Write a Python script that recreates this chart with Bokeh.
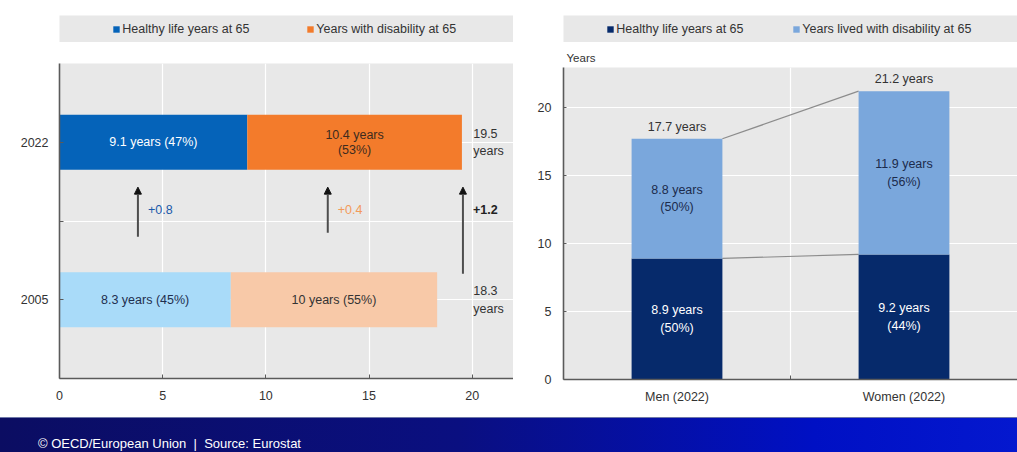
from bokeh.plotting import figure
from bokeh.layouts import column, row
from bokeh.models import (ColumnDataSource, Range1d, FixedTicker, Legend, LegendItem,
                          Arrow, NormalHead, Div)
from bokeh.core.properties import value
from bokeh.embed import file_html
from bokeh.resources import INLINE

FONT = "Liberation Sans"
BG = "#e8e8e8"
AXIS = "#5a5a5a"
TXT = "#333333"
FS = "12.5px"

# ---- EU, healthy life years at 65: 2005 vs 2022 ----
periods = ["2005", "2022"]
healthy_years = [8.3, 9.1]
disability_years = [10.0, 10.4]
total_years = [18.3, 19.5]
healthy_text = ["8.3 years (45%)", "9.1 years (47%)"]
disability_text = ["10 years (55%)", "10.4 years\n(53%)"]
change_text = ["+0.8", "+0.4", "+1.2"]
x_ticks_left = [0, 5, 10, 15, 20]

# ---- by sex, 2022 ----
sexes = ["Men (2022)", "Women (2022)"]
sex_healthy = [8.9, 9.2]
sex_disability = [8.8, 11.9]
sex_total = [17.7, 21.2]
sex_healthy_text = ["8.9 years\n(50%)", "9.2 years\n(44%)"]
sex_disability_text = ["8.8 years\n(50%)", "11.9 years\n(56%)"]
y_ticks_right = [0, 5, 10, 15, 20]


def legend_band(frame_w, border_left, pad_left, names, colors, item_step):
    """A grey strip above a panel that carries its horizontal legend."""
    p = figure(frame_width=frame_w, frame_height=27, min_border_left=border_left,
               min_border_right=0, min_border_top=15, min_border_bottom=0,
               x_range=Range1d(0, 1), y_range=Range1d(0, 1),
               x_axis_location=None, y_axis_location=None,
               toolbar_location=None, output_backend="svg",
               background_fill_color=BG, border_fill_color="white",
               outline_line_color=None)
    p.grid.visible = False
    items = []
    for name, col in zip(names, colors):
        # swatch source: one bar parked outside the visible range
        r = p.vbar(x=[5], top=[1], width=0.1, fill_color=col, line_color=None)
        items.append(LegendItem(label=name, renderers=[r]))
    label_w = 130
    leg = Legend(items=items, orientation="horizontal", location=(pad_left, 6),
                 margin=0, padding=0, spacing=item_step - 10 - label_w,
                 label_width=label_w,
                 glyph_width=8, glyph_height=8, label_standoff=2,
                 background_fill_alpha=0, border_line_color=None,
                 label_text_font=FONT, label_text_font_size=FS,
                 label_text_color=TXT)
    p.add_layout(leg)
    return p


def style_axes(p):
    for ax in p.axis:
        ax.axis_line_color = AXIS
        ax.axis_line_width = 1.6
        ax.major_tick_line_color = AXIS
        ax.minor_tick_line_color = AXIS
        ax.major_label_text_font = FONT
        ax.major_label_text_font_size = FS
        ax.major_label_text_color = TXT
        ax.major_tick_out = 0
        ax.minor_tick_out = 0
        ax.minor_tick_in = 0


# ================= left panel =================
left_leg = legend_band(455, 58, 93,
                       ["Healthy life years at 65", "Years with disability at 65"],
                       ["#0563b9", "#f37b2b"], 194)

left = figure(frame_width=454, frame_height=315, min_border_left=59, min_border_right=0,
              min_border_top=21, min_border_bottom=39,
              x_range=Range1d(0, 22), y_range=Range1d(0, 4),
              toolbar_location=None, output_backend="svg",
              background_fill_color=BG, border_fill_color="white",
              outline_line_color=None)

row_pos = [1 + 2 * i for i in range(len(periods))]
left_src = ColumnDataSource(dict(
    y=row_pos,
    healthy=healthy_years,
    total=total_years,
    healthy_mid=[h / 2 for h in healthy_years],
    dis_mid=[(h + t) / 2 for h, t in zip(healthy_years, total_years)],
    healthy_text=healthy_text,
    disability_text=disability_text,
    total_text=[f"{t:g}\nyears" for t in total_years],
    healthy_color=["#a9dbf9", "#0563b9"],
    dis_color=["#f8c9a8", "#f37b2b"],
    healthy_tc=["#1f2f4f", "white"],
    dis_tc=["#333333", "#3d2b1f"],
))

left.hbar(y="y", left=0, right="healthy", height=0.7, fill_color="healthy_color",
          line_color=None, source=left_src)
left.hbar(y="y", left="healthy", right="total", height=0.7, fill_color="dis_color",
          line_color=None, source=left_src)

left.text(x="healthy_mid", y="y", text="healthy_text", text_color="healthy_tc",
          text_align="center", text_baseline="middle", text_font=value(FONT),
          text_font_size=FS, source=left_src)
left.text(x="dis_mid", y="y", text="disability_text", text_color="dis_tc",
          text_align="center", text_baseline="middle", text_font=value(FONT),
          text_font_size=FS, text_line_height=1.1, source=left_src)
left.text(x=20, y="y", x_offset=1, text="total_text", text_color=TXT,
          text_align="left", text_baseline="middle", text_font=value(FONT),
          text_font_size=FS, text_line_height=1.25, source=left_src)

# change arrows between the two periods
arrow_x = [3.8, 13.0, total_years[-1] + 0.05]
arrow_y0 = [1.8, 1.85, 1.33]
for ax_, y0 in zip(arrow_x, arrow_y0):
    left.add_layout(Arrow(x_start=ax_, y_start=y0, x_end=ax_, y_end=2.43,
                          line_color="#4d4d4d", line_width=2,
                          end=NormalHead(size=7, fill_color="#111111",
                                         line_color="#111111")))
change_src = ColumnDataSource(dict(
    x=arrow_x, y=[2.15] * len(change_text), text=change_text,
    color=["#1a5aab", "#f39a5a", "#222222"],
    style=["normal", "normal", "bold"],
))
left.text(x="x", y="y", x_offset=10, text="text", text_color="color",
          text_font_style="style", text_align="left", text_baseline="middle",
          text_font=value(FONT), text_font_size=FS, source=change_src)

left.xaxis.ticker = FixedTicker(ticks=x_ticks_left)
left.yaxis.ticker = FixedTicker(ticks=[1, 2, 3])
left.yaxis.major_label_overrides = {1: periods[0], 2: "", 3: periods[1]}
style_axes(left)
left.xaxis.major_tick_in = 4
left.yaxis.major_tick_in = 4
left.xaxis.major_label_standoff = 12
left.yaxis.major_label_standoff = 11
left.xgrid.grid_line_color = "white"
left.ygrid.grid_line_color = "white"
left.xgrid.grid_line_width = 1.2
left.ygrid.grid_line_width = 1.2

# ================= right panel =================
right_leg = legend_band(458, 46, 78,
                        ["Healthy life years at 65", "Years lived with disability at 65"],
                        ["#062a6b", "#7aa7dc"], 186)

right = figure(frame_width=454, frame_height=312, min_border_left=50, min_border_right=0,
               min_border_top=25, min_border_bottom=38,
               x_range=Range1d(0, 2), y_range=Range1d(0, 312 / 13.6),
               toolbar_location=None, output_backend="svg",
               background_fill_color=BG, border_fill_color="white",
               outline_line_color=None, title="Years")
right.title.align = "left"
right.title.offset = 3
right.title.standoff = 8
right.title.text_font = FONT
right.title.text_font_size = "11.5px"
right.title.text_font_style = "normal"
right.title.text_color = TXT

xpos = [i + 0.5 for i in range(len(sexes))]
bar_w = 0.4
right_src = ColumnDataSource(dict(
    x=xpos,
    healthy=sex_healthy,
    total=sex_total,
    healthy_mid=[h / 2 for h in sex_healthy],
    dis_mid=[(h + t) / 2 for h, t in zip(sex_healthy, sex_total)],
    healthy_text=sex_healthy_text,
    disability_text=sex_disability_text,
    total_text=[f"{t:g} years" for t in sex_total],
))

# connectors between the two bars
edge_x = [xpos[0] + bar_w / 2, xpos[1] - bar_w / 2]
right.line(x=edge_x, y=sex_total, line_color="#8c8c8c", line_width=1.2)
right.line(x=edge_x, y=sex_healthy, line_color="#8c8c8c", line_width=1.2)

right.vbar(x="x", bottom=0, top="healthy", width=bar_w, fill_color="#062a6b",
           line_color=None, source=right_src)
right.vbar(x="x", bottom="healthy", top="total", width=bar_w, fill_color="#7aa7dc",
           line_color=None, source=right_src)

right.text(x="x", y="healthy_mid", text="healthy_text", text_color="white",
           text_align="center", text_baseline="middle", text_font=value(FONT),
           text_font_size=FS, text_line_height=1.25, source=right_src)
right.text(x="x", y="dis_mid", text="disability_text", text_color="#1c2b4c",
           text_align="center", text_baseline="middle", text_font=value(FONT),
           text_font_size=FS, text_line_height=1.25, source=right_src)
right.text(x="x", y="total", y_offset=-5, text="total_text", text_color=TXT,
           text_align="center", text_baseline="bottom", text_font=value(FONT),
           text_font_size=FS, source=right_src)

right.xaxis.ticker = FixedTicker(ticks=xpos, minor_ticks=[1.0])
right.xaxis.major_label_overrides = {x: s for x, s in zip(xpos, sexes)}
right.yaxis.ticker = FixedTicker(ticks=y_ticks_right)
style_axes(right)
right.xaxis.major_tick_in = 0
right.xaxis.minor_tick_in = 4
right.yaxis.major_tick_in = 3
right.xaxis.major_label_standoff = 10
right.yaxis.major_label_standoff = 12
right.xgrid.grid_line_color = None
right.xgrid.minor_grid_line_color = "white"
right.xgrid.minor_grid_line_width = 1.2
right.ygrid.grid_line_color = "white"
right.ygrid.grid_line_width = 1.2

# ================= footer =================
footer = Div(
    text=('<div style="width:1017px;height:35px;box-sizing:border-box;'
          'padding:17px 0 0 38px;border-top:1px solid #6f78a8;'
          'background:linear-gradient(90deg,#0b0d62 0%,#0a0f80 45%,#0010c4 80%,#0418cf 100%);'
          'color:white;font-family:\'Liberation Sans\',Arial,sans-serif;font-size:13px;'
          'white-space:nowrap;">'
          '&copy; OECD/European Union&nbsp; |&nbsp; Source: Eurostat</div>'),
    width=1017, height=35, margin=0)

page = column(row(column(left_leg, left), column(right_leg, right)), footer)

open("out.html", "w").write(file_html(page, INLINE, title="Healthy life years at 65"))
